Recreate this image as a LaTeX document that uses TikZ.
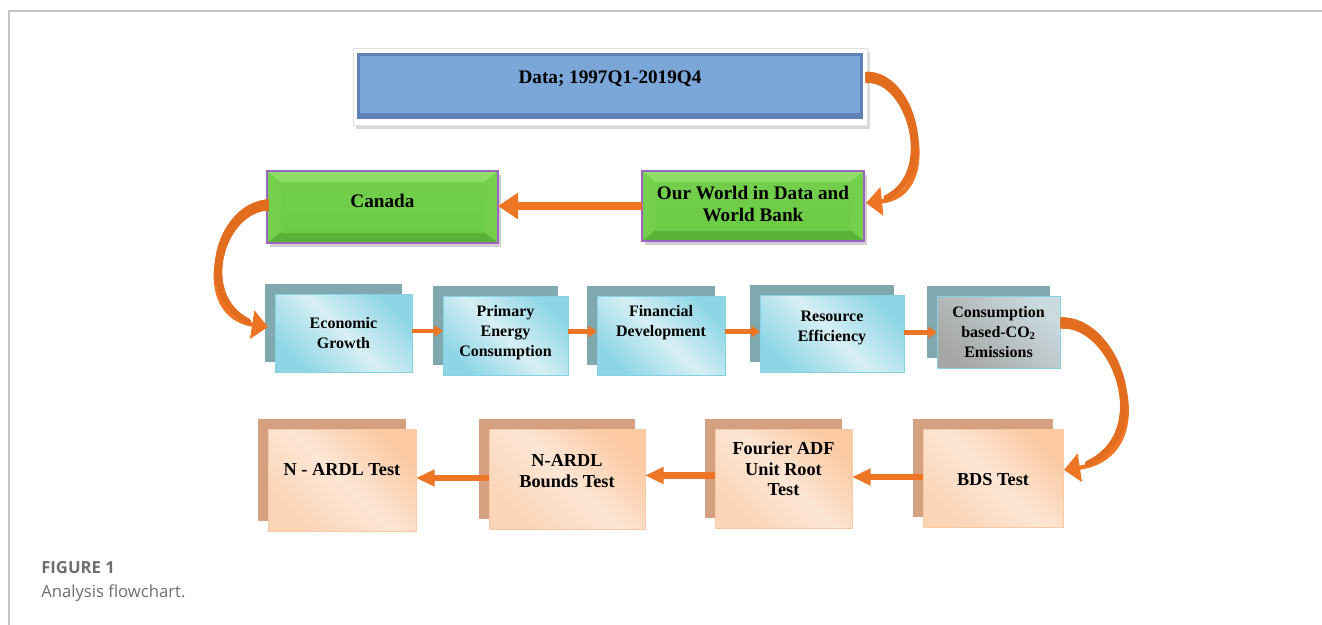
\documentclass[tikz,border=0pt]{standalone}
\usepackage{fontspec}
\setmainfont{Liberation Serif}
\newfontfamily\capfont{Open Sans}
\usetikzlibrary{arrows.meta,calc,decorations.markings}
\pgfdeclarelayer{bg}
\pgfsetlayers{bg,main}
\definecolor{framegray}{HTML}{C4C4C4}
\definecolor{capgray}{HTML}{6E6E6E}
\definecolor{blueface}{HTML}{7BA7D8}
\definecolor{blueedge}{HTML}{5E82B5}
\definecolor{gface}{HTML}{6CCB45}
\definecolor{gtop}{HTML}{8FDD66}
\definecolor{gbot}{HTML}{58B235}
\definecolor{gside}{HTML}{74D04C}
\definecolor{purp}{HTML}{9E62C2}
\definecolor{tealback}{HTML}{80A9AF}
\definecolor{cyanA}{HTML}{8ED6E6}
\definecolor{cyanB}{HTML}{D6EFF4}
\definecolor{cyanline}{HTML}{86D2E2}
\definecolor{grayA}{HTML}{A6A6A6}
\definecolor{grayB}{HTML}{CADADE}
\definecolor{peachback}{HTML}{D5A07F}
\definecolor{peachA}{HTML}{FBC9A2}
\definecolor{peachB}{HTML}{FDE6D5}
\definecolor{peachline}{HTML}{F9C9A5}
\definecolor{arr}{HTML}{EE7524}
\definecolor{arrdark}{HTML}{DE6A1C}
\begin{document}
\begin{tikzpicture}[x=0.75pt,y=-0.75pt,
  sz/.style 2 args={rectangle,minimum width=#1*0.75pt,minimum height=#2*0.75pt,inner sep=0pt,outer sep=0pt},
  t2/.style={align=center,inner sep=0pt,font=\fontsize{14.4}{16.5}\selectfont\bfseries},
  t3/.style={align=center,inner sep=0pt,font=\fontsize{12}{15}\selectfont\bfseries},
  t4/.style={align=center,inner sep=0pt,font=\fontsize{13.7}{15.5}\selectfont\bfseries},
  gbox/.style={draw=purp,line width=1.1pt},
  cbox/.style={draw=cyanline,line width=0.6pt},
  pbox/.style={draw=peachline,line width=0.6pt},
  cyanshade/.style={top color=cyanA,bottom color=cyanA,middle color=cyanB,shading angle=-45},
  grayshade/.style={top color=grayB,bottom color=grayA,shading angle=-45},
  peachshade/.style={top color=peachA,bottom color=peachA!60!peachB,middle color=peachB,shading angle=-45},
  bigarrow/.style={draw=arr,line width=6pt,-{Triangle[length=15pt,width=19pt]}},
  smallarrow/.style={draw=arr,line width=3.5pt,-{Triangle[length=6.5pt,width=8.5pt]}},
  midarrow/.style={draw=arr,line width=5pt,-{Triangle[length=14pt,width=12pt]}},
  curvearrow/.style={draw=arr,line width=3.2pt,-{Triangle[length=12pt,width=21pt]},
    postaction={decorate,decoration={markings,
      mark=between positions 0 and 0.88 step 0.8pt with {%
        \pgfmathsetmacro\rr{4.3-2.6*\pgfkeysvalueof{/pgf/decoration/mark info/distance from start}/\pgfdecoratedpathlength}%
        \fill[arrdark!70!arr] (0,0) circle (\rr pt);}}}},
  caplab/.style={anchor=west,inner sep=0pt,text=capgray}
]
\useasboundingbox (0,0) rectangle (1322,625);
\coordinate (origin) at (0,0);
\coordinate (farcorner) at (1322,625);
% frame lines
\draw[framegray,line width=0.9pt] (9,625) -- (9,11) -- (1322,11);

% ---------- nodes ----------
\node[sz={514}{77},draw=black!12,line width=0.6pt] (data) at (610,86.5) {};
\node[sz={506}{66}] (datain) at (610,86) {};
\node[t2] (dataT) at (610,79) {Data; 1997Q1-2019Q4};

\node[sz={222}{70},gbox] (ow) at (753,206) {};
\node[t2] (owT) at (753,204) {Our World in Data and\\World Bank};
\node[sz={231}{72},gbox] (can) at (382.5,207) {};
\node[t2] (canT) at (382.5,201) {Canada};

\node[sz={137}{78},cbox] (econ) at (343.5,333) {};
\node[t3] (econT) at (343.5,333.5) {Economic\\Growth};
\node[sz={125}{79},cbox] (prim) at (505.5,335.5) {};
\node[t3] (primT) at (505.5,333) {Primary\\Energy\\Consumption};
\node[sz={128}{79},cbox] (fin) at (661,335.5) {};
\node[t3] (finT) at (661,323) {Financial\\Development};
\node[sz={144}{77},cbox] (res) at (832,333.5) {};
\node[t3] (resT) at (832,327.5) {Resource\\Efficiency};
\node[sz={123}{72},cbox] (cons) at (998.5,332) {};
\node[t3] (consT) at (998.5,332) {Consumption\\based-CO\textsubscript{2}\\Emissions};

\node[sz={148}{102},pbox] (nardl) at (342,480) {};
\node[t4] (nardlT) at (342,470) {N - ARDL Test};
\node[sz={156}{100},pbox] (bounds) at (567,479) {};
\node[t4] (boundsT) at (567,471) {N-ARDL\\Bounds Test};
\node[sz={137}{99},pbox] (fourier) at (783.5,478.5) {};
\node[t4] (fourierT) at (783.5,469) {Fourier ADF\\Unit Root\\Test};
\node[sz={140}{98},pbox] (bds) at (993,478) {};
\node[t4] (bdsT) at (993,480) {BDS Test};

\node[caplab,font=\capfont\bfseries\fontsize{12.5}{15}\selectfont] (figlab) at (41,568) {FIGURE 1};
\node[caplab,font=\capfont\fontsize{12.5}{15}\selectfont] (figcap) at (41,593) {Analysis flowchart.};

% ---------- fills (background layer) ----------
\begin{pgfonlayer}{bg}
  % data box
  \fill[black,opacity=0.15] ($(data.north west)+(3,4)$) rectangle ($(data.south east)+(3,4)$);
  \fill[white] (data.north west) rectangle (data.south east);
  \fill[blueedge] (datain.north west) rectangle (datain.south east);
  \fill[blueface] ($(datain.north west)+(3,3)$) rectangle ($(datain.south east)+(-3,-6)$);
  % green bevel boxes
  \foreach \n in {ow,can}{
    \fill[black,opacity=0.18] ($(\n.north west)+(3,4)$) rectangle ($(\n.south east)+(3,4)$);
    \fill[gside] (\n.north west) rectangle (\n.south east);
    \fill[gtop] (\n.north west) -- (\n.north east) -- ($(\n.north east)+(-14,11)$) -- ($(\n.north west)+(14,11)$) -- cycle;
    \fill[gbot] (\n.south west) -- (\n.south east) -- ($(\n.south east)+(-14,-11)$) -- ($(\n.south west)+(14,-11)$) -- cycle;
    \shade[top color=gface!80!gtop,bottom color=gface] ($(\n.north west)+(14,11)$) rectangle ($(\n.south east)+(-14,-11)$);
  }
  % row 3
  \foreach \n in {econ,prim,fin,res,cons}{
    \fill[tealback] ($(\n.north west)+(-10,-10)$) rectangle ($(\n.south east)+(-10,-10)$);
  }
  \foreach \n in {econ,prim,fin,res}{
    \shade[cyanshade] (\n.north west) rectangle (\n.south east);
  }
  \shade[grayshade] (cons.north west) rectangle (cons.south east);
  % row 4
  \foreach \n in {nardl,bounds,fourier,bds}{
    \fill[peachback] ($(\n.north west)+(-10,-10)$) rectangle ($(\n.south east)+(-10,-10)$);
    \shade[peachshade] (\n.north west) rectangle (\n.south east);
  }
\end{pgfonlayer}

% ---------- connectors ----------
\coordinate (s1) at ($(data.east)+(-1,-9)$);
\coordinate (e1) at ($(ow.east)+(2,-3)$);
\begin{scope}
  \clip ($(data.east |- origin)+(-1.5,0)$) rectangle (farcorner);
  \draw[curvearrow] (s1) .. controls (915,74) and (945,195) .. (e1);
\end{scope}
\draw[bigarrow] (ow.west) -- (ow.west -| can.east);
\coordinate (s2) at ($(can.west)+(1,-2)$);
\coordinate (e2) at ($(econ.west)+(-7,-6)$);
\begin{scope}
  \clip (origin) rectangle ($(can.west |- farcorner)+(1.5,0)$);
  \draw[curvearrow] (s2) .. controls (215,208) and (190,315) .. (e2);
\end{scope}
\coordinate (a1) at ($(econ.east)+(0,-2)$);
\coordinate (a2) at ($(prim.east)+(0,-4)$);
\coordinate (a3) at ($(fin.east)+(0,-4)$);
\coordinate (a4) at ($(res.east)+(0,-1)$);
\draw[smallarrow] (a1) -- (a1 -| prim.west);
\draw[smallarrow] (a2) -- (a2 -| fin.west);
\draw[smallarrow] (a3) -- (a3 -| res.west);
\draw[smallarrow] (a4) -- (a4 -| cons.west);
\coordinate (s3) at ($(cons.east)+(1,-9)$);
\coordinate (e3) at ($(bds.east)+(1,-8)$);
\begin{scope}
  \clip ($(cons.east |- origin)+(0.5,0)$) rectangle (farcorner);
  \draw[curvearrow] (s3) .. controls (1120,320) and (1165,455) .. (e3);
\end{scope}
\coordinate (b1) at ($(bds.west)+(0,-1)$);
\coordinate (b2) at ($(fourier.west)+(0,-3)$);
\coordinate (b3) at ($(bounds.west)+(0,-1)$);
\draw[midarrow] (b1) -- (b1 -| fourier.east);
\draw[midarrow] (b2) -- (b2 -| bounds.east);
\draw[midarrow] (b3) -- (b3 -| nardl.east);
\end{tikzpicture}
\end{document}
